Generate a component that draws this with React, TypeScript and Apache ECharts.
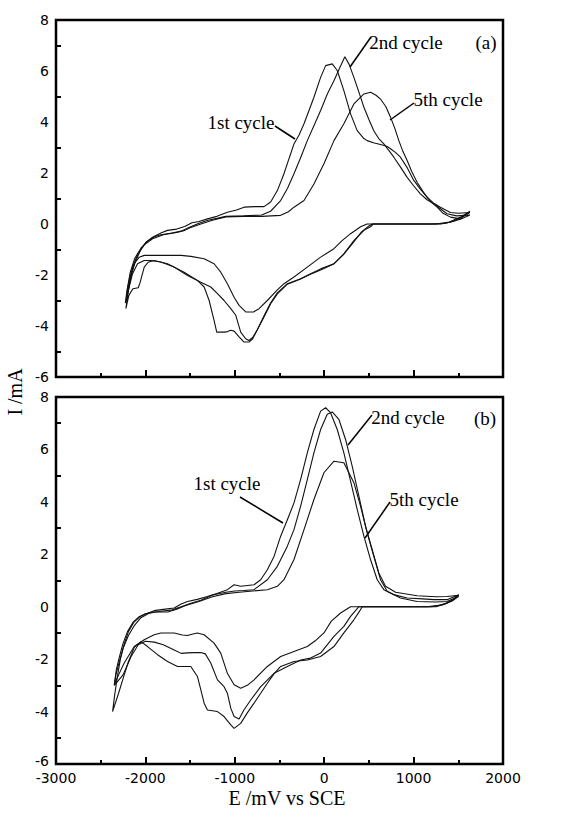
import React, { useEffect, useRef } from 'react';
import * as echarts from 'echarts';

// Axis ranges
const E_MIN = -3000;
const E_MAX = 2000;
const E_STEP = 1000;
const I_MIN = -6;
const I_MAX = 8;
const I_STEP = 2;

const cycleNames = ['1st cycle', '2nd cycle', '5th cycle'];
const panelTags = ['(a)', '(b)'];
const xTitle = 'E /mV vs SCE';
const yTitle = 'I /mA';

// Panel (a) cycles: [E (mV), I (mA)] in scan order
const a1st: number[][] = [
  [1630, 0.45], [1560, 0.3], [1450, 0.12], [1350, 0.02], [1200, 0], [900, 0], [550, 0], [518, -0.11], [444, -0.25],
  [332, -0.65], [220, -1.17], [109, -1.56], [-40, -1.76], [-152, -1.95], [-264, -2.15], [-412, -2.34], [-524, -2.7],
  [-600, -3.1], [-673, -3.6], [-748, -4.15], [-800, -4.5], [-841, -4.63], [-897, -4.63], [-952, -4.43], [-1008, -4.2],
  [-1045, -4.17], [-1080, -4.22], [-1120, -4.24], [-1202, -4.24], [-1232, -3.78], [-1287, -3.0], [-1343, -2.47],
  [-1418, -2.21], [-1567, -1.89], [-1753, -1.56], [-1902, -1.43], [-1970, -1.5], [-2013, -1.69], [-2060, -2.3],
  [-2080, -2.5], [-2140, -2.54], [-2185, -2.8], [-2218, -3.32],
  [-2195, -2.7], [-2160, -2.0], [-2110, -1.45], [-2050, -1.0], [-1990, -0.7], [-1920, -0.52], [-1827, -0.35],
  [-1753, -0.25], [-1650, -0.2], [-1560, -0.1], [-1480, 0.05], [-1400, 0.1], [-1306, 0.2], [-1200, 0.3], [-1083, 0.46],
  [-980, 0.55], [-896, 0.66], [-780, 0.68], [-673, 0.68], [-599, 0.86], [-524, 1.31], [-450, 1.97], [-390, 2.6],
  [-338, 3.14], [-280, 3.5], [-226, 3.93], [-170, 4.45], [-115, 4.97], [-40, 5.75], [16, 6.21], [90, 6.28], [146, 6.02],
  [220, 5.23], [295, 4.32], [369, 3.66], [444, 3.35], [481, 3.27], [560, 3.18], [630, 3.12], [700, 3.05], [742, 2.95],
  [800, 2.8], [853, 2.62], [930, 2.2], [1002, 1.71], [1080, 1.35], [1151, 1.05], [1230, 0.8], [1300, 0.66],
  [1412, 0.45], [1500, 0.42], [1630, 0.45],
];

const a2nd: number[][] = [
  [1630, 0.35], [1530, 0.2], [1420, 0.08], [1300, 0], [1100, 0], [540, 0], [500, -0.08], [420, -0.3], [320, -0.75],
  [210, -1.22], [100, -1.58], [-40, -1.8], [-160, -1.98], [-270, -2.17], [-412, -2.36], [-524, -2.74], [-599, -3.13],
  [-673, -3.65], [-748, -4.15], [-800, -4.45], [-841, -4.57], [-878, -4.5], [-934, -4.24], [-989, -3.58],
  [-1045, -3.32], [-1120, -3.0], [-1194, -2.73], [-1269, -2.47], [-1380, -2.28], [-1529, -2.02], [-1678, -1.69],
  [-1827, -1.49], [-1939, -1.43], [-2013, -1.43], [-2088, -1.56], [-2144, -1.95], [-2181, -2.47], [-2218, -3.06],
  [-2200, -2.5], [-2170, -1.9], [-2120, -1.35], [-2050, -0.95], [-1980, -0.68], [-1900, -0.5], [-1827, -0.42],
  [-1700, -0.35], [-1600, -0.28], [-1500, -0.12], [-1400, 0.03], [-1300, 0.15], [-1200, 0.22], [-1100, 0.3],
  [-900, 0.32], [-700, 0.35], [-600, 0.5], [-487, 0.92], [-410, 1.4], [-338, 1.97], [-264, 2.6], [-189, 3.27],
  [-115, 3.85], [-40, 4.45], [35, 5.1], [109, 5.62], [170, 6.1], [231, 6.56], [280, 6.25], [332, 5.75], [390, 5.15],
  [444, 4.58], [500, 4.1], [555, 3.66], [610, 3.35], [667, 3.14], [720, 2.9], [779, 2.62], [850, 2.25], [928, 1.83],
  [1000, 1.5], [1076, 1.18], [1150, 0.95], [1226, 0.79], [1300, 0.6], [1374, 0.4], [1480, 0.32], [1630, 0.35],
];

const a5th: number[][] = [
  [1630, 0.5], [1530, 0.28], [1400, 0.08], [1250, 0], [1000, 0], [480, 0], [407, -0.11], [295, -0.38], [200, -0.65],
  [109, -0.97], [-40, -1.3], [-189, -1.69], [-338, -2.08], [-450, -2.34], [-524, -2.58], [-636, -3.0], [-729, -3.32],
  [-790, -3.45], [-878, -3.45], [-952, -3.19], [-1008, -2.87], [-1083, -2.34], [-1157, -1.89], [-1232, -1.56],
  [-1343, -1.36], [-1492, -1.27], [-1600, -1.23], [-1753, -1.23], [-2013, -1.23], [-2069, -1.3], [-2125, -1.56],
  [-2162, -2.08], [-2200, -2.73], [-2225, -3.1],
  [-2205, -2.6], [-2175, -2.1], [-2140, -1.65], [-2080, -1.15], [-2013, -0.82], [-1920, -0.58], [-1800, -0.42],
  [-1650, -0.33], [-1560, -0.25], [-1500, -0.15], [-1380, 0.0], [-1250, 0.15], [-1100, 0.28], [-900, 0.3],
  [-700, 0.3], [-487, 0.34], [-400, 0.48], [-338, 0.66], [-226, 0.92], [-115, 1.57], [-3, 2.36], [109, 3.27],
  [220, 3.93], [332, 4.71], [444, 5.1], [518, 5.17], [580, 5.05], [630, 4.9], [690, 4.6], [742, 4.19], [790, 3.75],
  [835, 3.27], [880, 2.85], [928, 2.49], [980, 2.05], [1039, 1.64], [1100, 1.3], [1151, 1.05], [1200, 0.85],
  [1263, 0.66], [1330, 0.42], [1412, 0.27], [1523, 0.2], [1630, 0.5],
];

// Panel (b) cycles
const b1st: number[][] = [
  [1505, 0.46], [1450, 0.3], [1380, 0.15], [1280, 0.05], [1150, 0], [900, 0], [425, 0], [407, -0.11], [332, -0.5],
  [220, -1.0], [109, -1.52], [-40, -1.9], [-189, -2.03], [-338, -2.09], [-487, -2.28], [-560, -2.55], [-636, -2.92],
  [-710, -3.3], [-785, -3.68], [-860, -4.05], [-934, -4.45], [-1008, -4.64], [-1045, -4.51], [-1120, -4.19],
  [-1194, -4.0], [-1306, -3.94], [-1343, -3.68], [-1380, -3.17], [-1418, -2.66], [-1492, -2.28], [-1641, -2.28],
  [-1753, -2.09], [-1864, -1.83], [-1976, -1.52], [-2050, -1.33], [-2125, -1.55], [-2190, -2.1], [-2237, -2.6],
  [-2300, -3.3], [-2367, -4.0],
  [-2345, -3.4], [-2315, -2.7], [-2280, -2.0], [-2240, -1.45], [-2190, -0.95], [-2130, -0.6], [-2060, -0.38],
  [-2013, -0.3], [-1902, -0.15], [-1800, -0.1], [-1678, -0.05], [-1600, 0.1], [-1529, 0.2], [-1420, 0.28],
  [-1306, 0.39], [-1200, 0.5], [-1083, 0.65], [-1008, 0.84], [-934, 0.78], [-785, 0.84], [-710, 1.03], [-636, 1.41],
  [-561, 1.92], [-487, 2.69], [-412, 3.32], [-338, 3.96], [-264, 4.85], [-189, 5.87], [-115, 6.76], [-40, 7.46],
  [16, 7.59], [71, 7.4], [146, 6.76], [220, 5.87], [295, 4.79], [369, 3.71], [444, 2.69], [518, 1.8], [593, 1.03],
  [667, 0.65], [779, 0.46], [928, 0.33], [1100, 0.3], [1226, 0.27], [1374, 0.27], [1505, 0.46],
];

const b2nd: number[][] = [
  [1505, 0.44], [1440, 0.25], [1350, 0.1], [1250, 0], [900, 0], [388, 0], [295, -0.37], [220, -0.75], [109, -1.13],
  [-40, -1.77], [-152, -1.96], [-264, -2.03], [-412, -2.28], [-561, -2.54], [-710, -3.05], [-822, -3.56],
  [-900, -3.95], [-952, -4.28], [-1008, -4.19], [-1045, -3.87], [-1083, -3.3], [-1120, -3.05], [-1194, -2.79],
  [-1269, -2.15], [-1330, -1.8], [-1380, -1.75], [-1450, -1.75], [-1529, -1.76], [-1600, -1.78], [-1678, -1.65],
  [-1800, -1.45], [-1900, -1.35], [-2000, -1.32], [-2080, -1.45], [-2160, -1.9], [-2250, -2.6], [-2348, -3.0],
  [-2330, -2.6], [-2300, -2.2], [-2250, -1.6], [-2190, -1.1], [-2120, -0.7], [-2050, -0.42], [-1960, -0.25],
  [-1850, -0.18], [-1700, -0.12], [-1600, 0.0], [-1500, 0.12], [-1380, 0.25], [-1250, 0.45], [-1100, 0.55],
  [-1000, 0.6], [-900, 0.62], [-785, 0.65], [-636, 1.03], [-524, 1.54], [-412, 2.31], [-338, 2.94], [-264, 3.83],
  [-189, 4.85], [-115, 5.87], [-40, 6.76], [34, 7.34], [90, 7.43], [164, 7.15], [239, 6.38], [313, 5.36], [388, 4.22],
  [462, 3.07], [537, 2.18], [611, 1.29], [686, 0.78], [798, 0.55], [1039, 0.42], [1250, 0.38], [1374, 0.39],
  [1505, 0.44],
];

const b5th: number[][] = [
  [1505, 0.4], [1430, 0.22], [1330, 0.08], [1200, 0], [900, 0], [295, 0], [183, -0.24], [80, -0.55], [-3, -1.0],
  [-100, -1.3], [-189, -1.52], [-338, -1.71], [-487, -1.9], [-636, -2.28], [-785, -2.79], [-860, -3.0],
  [-934, -3.11], [-1008, -2.98], [-1083, -2.54], [-1157, -1.77], [-1232, -1.39], [-1343, -1.07], [-1418, -1.0],
  [-1480, -1.05], [-1529, -1.1], [-1585, -1.08], [-1678, -1.0], [-1827, -1.0], [-1902, -1.07], [-2013, -1.26],
  [-2125, -1.52], [-2237, -2.15], [-2300, -2.6], [-2348, -2.98],
  [-2325, -2.4], [-2290, -1.9], [-2250, -1.4], [-2200, -0.95], [-2140, -0.6], [-2070, -0.38], [-2000, -0.27],
  [-1900, -0.2], [-1750, -0.2], [-1650, -0.1], [-1550, 0.05], [-1400, 0.2], [-1250, 0.38], [-1100, 0.5],
  [-950, 0.55], [-800, 0.6], [-636, 0.65], [-524, 0.78], [-450, 1.03], [-338, 1.8], [-226, 2.94], [-115, 4.09],
  [-3, 5.11], [109, 5.55], [220, 5.49], [332, 4.73], [407, 3.83], [481, 2.82], [555, 1.92], [630, 1.03], [705, 0.59],
  [853, 0.33], [1039, 0.2], [1250, 0.18], [1374, 0.2], [1505, 0.4],
];

const panels = [
  [a1st, a2nd, a5th],
  [b1st, b2nd, b5th],
];

const TICK_FONT = 'DejaVu Sans';
const SERIF = 'Liberation Serif';

export default function App() {
  const ref = useRef<HTMLDivElement>(null);

  useEffect(() => {
    if (!ref.current) return;
    const chart = echarts.init(ref.current, null, { renderer: 'svg' });

    const gridBoxes = [
      { left: 56, top: 20, width: 447, height: 357 },
      { left: 56, top: 397, width: 447, height: 367 },
    ];

    const grid = gridBoxes.map((g) => ({
      ...g,
      show: true,
      borderColor: '#000',
      borderWidth: 2.5,
      backgroundColor: 'transparent',
    }));

    const plain = (v: number) => String(v);

    const xAxis = gridBoxes.map((_, i) => ({
      type: 'value',
      gridIndex: i,
      position: 'bottom',
      min: E_MIN,
      max: E_MAX,
      interval: E_STEP,
      axisLine: { show: false, onZero: false },
      axisTick: { show: true, inside: true, length: 7, lineStyle: { color: '#000', width: 2 } },
      minorTick: { show: true, splitNumber: 2, length: 4, lineStyle: { color: '#000', width: 2 } },
      splitLine: { show: false },
      minorSplitLine: { show: false },
      axisLabel: {
        show: i === 1,
        margin: 8,
        formatter: plain,
        fontFamily: TICK_FONT,
        fontSize: 14,
        lineHeight: 12,
        color: '#000',
      },
    }));

    const yAxis = gridBoxes.map((_, i) => ({
      type: 'value',
      gridIndex: i,
      position: 'left',
      min: I_MIN,
      max: I_MAX,
      interval: I_STEP,
      axisLine: { show: false, onZero: false },
      axisTick: { show: false, inside: true },
      minorTick: { show: true, splitNumber: 2, length: 5, lineStyle: { color: '#000', width: 2 } },
      splitLine: { show: false },
      minorSplitLine: { show: false },
      axisLabel: {
        margin: 7,
        // lowest label of the lower panel sits a touch higher so it clears the E labels
        formatter: (v: number) => (i === 1 && v === I_MIN ? `{lo|${v}}` : String(v)),
        rich: {
          lo: { fontFamily: TICK_FONT, fontSize: 14, lineHeight: 12, color: '#000', padding: [0, 0, 6, 0] },
        },
        fontFamily: TICK_FONT,
        fontSize: 14,
        lineHeight: 12,
        color: '#000',
      },
    }));

    const series: any[] = [];
    panels.forEach((cycles, p) => {
      cycles.forEach((data, c) => {
        series.push({
          type: 'line',
          name: `${panelTags[p]} ${cycleNames[c]}`,
          xAxisIndex: p,
          yAxisIndex: p,
          data,
          symbol: 'none',
          showSymbol: false,
          silent: true,
          clip: true,
          lineStyle: { color: '#111', width: 1.1 },
        });
      });
    });

    const label = (text: string, x: number, y: number, size = 19) => ({
      type: 'text',
      x,
      y,
      silent: true,
      style: {
        text,
        fill: '#000',
        fontFamily: SERIF,
        fontSize: size,
        textAlign: 'center',
        textVerticalAlign: 'middle',
      },
    });
    const leader = (x1: number, y1: number, x2: number, y2: number) => ({
      type: 'line',
      silent: true,
      shape: { x1, y1, x2, y2 },
      style: { stroke: '#000', lineWidth: 1.5 },
    });

    const graphic = [
      // panel (a)
      label(cycleNames[0], 241, 122),
      leader(275, 126, 295, 139),
      label(cycleNames[1], 406, 42),
      leader(371, 37, 350, 67),
      label(cycleNames[2], 448, 99),
      leader(414, 103, 390, 120),
      label(panelTags[0], 486, 42),
      // panel (b)
      label(cycleNames[0], 227, 483),
      leader(240, 497, 283, 523),
      label(cycleNames[1], 408, 417),
      leader(372, 415, 348, 445),
      label(cycleNames[2], 424, 499),
      leader(390, 502, 365, 538),
      label(panelTags[1], 485, 418),
      // axis titles
      label(xTitle, 287, 798, 20),
      {
        type: 'text',
        x: 15,
        y: 392,
        rotation: Math.PI / 2,
        silent: true,
        style: {
          text: yTitle,
          fill: '#000',
          fontFamily: SERIF,
          fontSize: 20,
          textAlign: 'center',
          textVerticalAlign: 'middle',
        },
      },
    ];

    chart.setOption({
      animation: false,
      backgroundColor: '#fff',
      grid,
      xAxis,
      yAxis,
      series,
      graphic,
    });

    return () => chart.dispose();
  }, []);

  return (
    <div
      ref={ref}
      style={{ position: 'fixed', left: 0, top: 0, width: 567, height: 818, background: '#fff' }}
    />
  );
}
